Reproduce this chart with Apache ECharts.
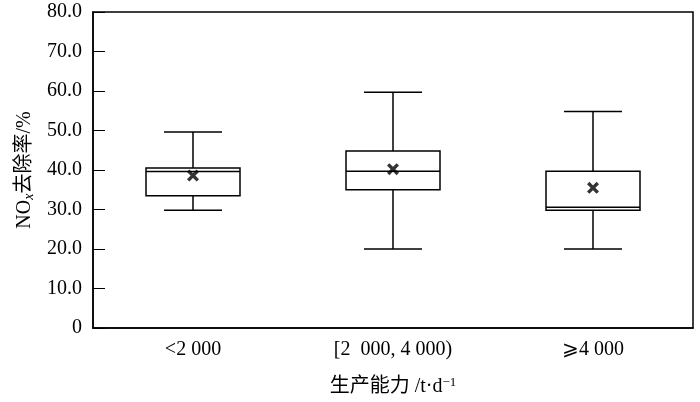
<!DOCTYPE html>
<html><head><meta charset="utf-8">
<script src="https://cdn.jsdelivr.net/npm/echarts@6/dist/echarts.min.js"></script>
<style>html,body{margin:0;padding:0;background:#fff}#c{width:700px;height:402px}</style>
</head><body><div id="c"></div>
<script>
const categories = ['<2 000', '[2  000, 4 000)', '⩾4 000'];
const whiskerLow = [29.8, 20.0, 20.0];
const q1 = [33.5, 35.0, 29.8];
const median = [39.6, 39.7, 30.6];
const q3 = [40.5, 44.8, 39.7];
const whiskerHigh = [49.6, 59.7, 54.8];
const mean = [38.6, 40.2, 35.5];
const yTicks = [0, 10, 20, 30, 40, 50, 60, 70, 80];

const FONT = '"Liberation Serif", "Times New Roman", "Noto Sans CJK SC", serif';
const chart = echarts.init(document.getElementById('c'));
const boxData = categories.map((c, i) => [i, whiskerLow[i], q1[i], median[i], q3[i], whiskerHigh[i]]);

chart.setOption({
  animation: false,
  grid: {left: 93, right: 7, top: 12, bottom: 74, show: true, borderColor: '#000', borderWidth: 1.5},
  xAxis: {
    type: 'category', data: categories, boundaryGap: true,
    axisLine: {lineStyle: {color: '#000', width: 1.5}},
    axisTick: {inside: true, alignWithLabel: true, length: 11, lineStyle: {color: '#000', width: 1}},
    axisLabel: {color: '#000', fontFamily: FONT, fontSize: 20, margin: 12},
    name: '{a|生产能力 /t·d}{s|−1}', nameLocation: 'middle', nameGap: 48,
    nameTextStyle: {rich: {
      a: {fontFamily: FONT, fontSize: 20, color: '#000'},
      s: {fontFamily: FONT, fontSize: 13, color: '#000', verticalAlign: 'top', padding: [0,0,9,0]}
    }}
  },
  yAxis: {
    type: 'value', min: 0, max: 80, interval: 10,
    axisLine: {show: true, lineStyle: {color: '#000', width: 1.5}},
    axisTick: {show: true, inside: true, length: 12, lineStyle: {color: '#000', width: 1}},
    splitLine: {show: false},
    axisLabel: {color: '#000', fontFamily: FONT, fontSize: 20, margin: 11,
      formatter: v => yTicks.includes(v) ? (v === 0 ? '0' : v.toFixed(1)) : ''},
    name: '{a|NO}{s|x}{a|去除率/%}', nameLocation: 'middle', nameGap: 56, nameRotate: 90,
    nameTextStyle: {rich: {
      a: {fontFamily: FONT, fontSize: 20, color: '#000'},
      s: {fontFamily: FONT, fontSize: 14, fontStyle: 'italic', color: '#000', padding: [9,0,0,0]}
    }}
  },
  series: [{
    type: 'custom',
    data: boxData,
    encode: {x: 0, y: [1,2,3,4,5]},
    renderItem: function (params, api) {
      const x = api.value(0);
      const band = api.size([1, 0])[0];
      const bw = band * 0.47, cw = band * 0.145;
      const p = v => api.coord([x, v]);
      const lo = p(api.value(1)), b1 = p(api.value(2)), m = p(api.value(3)), b3 = p(api.value(4)), hi = p(api.value(5));
      const cx = lo[0];
      const st = {stroke: '#000', lineWidth: 1.5, fill: null};
      return {type: 'group', children: [
        {type: 'line', shape: {x1: cx, y1: hi[1], x2: cx, y2: b3[1]}, style: st},
        {type: 'line', shape: {x1: cx, y1: b1[1], x2: cx, y2: lo[1]}, style: st},
        {type: 'line', shape: {x1: cx - cw, y1: hi[1], x2: cx + cw, y2: hi[1]}, style: st},
        {type: 'line', shape: {x1: cx - cw, y1: lo[1], x2: cx + cw, y2: lo[1]}, style: st},
        {type: 'rect', shape: {x: cx - bw / 2, y: b3[1], width: bw, height: b1[1] - b3[1]}, style: {stroke: '#000', lineWidth: 1.5, fill: '#fff'}},
        {type: 'line', shape: {x1: cx - bw / 2, y1: m[1], x2: cx + bw / 2, y2: m[1]}, style: st}
      ]};
    },
    z: 2
  }, {
    type: 'scatter',
    data: mean.map((v, i) => [i, v]),
    symbol: 'path://M0,2 L2,0 L10,8 L8,10 Z M8,0 L10,2 L2,10 L0,8 Z',
    symbolSize: 12,
    itemStyle: {color: '#000'},
    z: 5
  }]
});
</script></body></html>
